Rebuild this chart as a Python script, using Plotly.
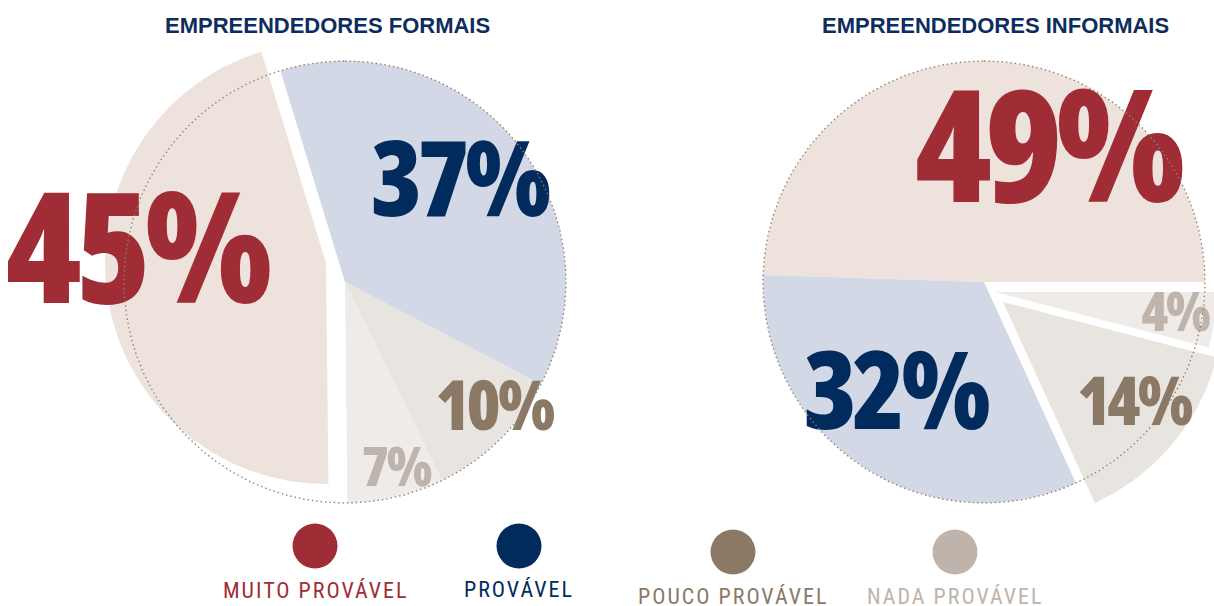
import numpy as np
import plotly.graph_objects as go

# ---- data -------------------------------------------------------------
categories = ["MUITO PROVÁVEL", "PROVÁVEL", "POUCO PROVÁVEL", "NADA PROVÁVEL"]
formais = [45, 37, 10, 7]
informais = [49, 32, 14, 4]
titles = ["EMPREENDEDORES FORMAIS", "EMPREENDEDORES INFORMAIS"]

# ---- styles -----------------------------------------------------------
dark = ["#A02C35", "#002B5C", "#8B7965", "#BEB4AB"]
light = ["#EEE2DD", "#D3D8E6", "#E8E4E0", "#EEEBE8"]
title_color = "#0C2D5E"
ring_color = "#8F8172"
big_font = "Open Sans"
big_style = "font-stretch:75%;letter-spacing:-0.045em"
cap_ratio = 0.714          # digit height / font size for the label face
legend_font = "Roboto Condensed"
title_font = "Liberation Sans, Arial, sans-serif"

W, H = 1214, 606

# Pie layout (pixel space): centre, radius, first edge angle (deg clockwise
# from 12 o'clock), sweep direction, slice draw order, exploded offsets,
# label anchors (centre x, centre y, font size)
pies = [
    dict(values=formais, title=titles[0], title_x=327,
         cx=345, cy=282, r=221, start=-17, direction=-1, order=[0, 3, 2, 1],
         offsets={0: (-19, -19)},
         labels={0: (136, 248, 154), 1: (459, 179, 104),
                 2: (494, 405, 69), 3: (396, 466, 55)}),
    dict(values=informais, title=titles[1], title_x=995,
         cx=984, cy=282, r=221, start=-88.2, direction=1, order=[0, 3, 2, 1],
         offsets={2: (19, 20), 3: (11, 10)},
         labels={0: (1047, 146, 156), 1: (895, 390, 108),
                 2: (1134, 401, 67), 3: (1175, 312, 54)}),
]

legend_pos = [(315, 546, 590), (519, 546, 589), (733, 552, 596), (955, 552, 596)]


def sector(cx, cy, r, a0, a1, n=240):
    th = np.radians(np.linspace(a0, a1, n))
    xs = np.concatenate([[cx], cx + r * np.sin(th), [cx]])
    ys = np.concatenate([[cy], cy - r * np.cos(th), [cy]])
    return xs, ys


fig = go.Figure()

# slices
for p in pies:
    total = sum(p["values"])
    angle = p["start"]
    for i in p["order"]:
        sweep = p["values"][i] / total * 360 * p["direction"]
        dx, dy = p["offsets"].get(i, (0, 0))
        xs, ys = sector(p["cx"] + dx, p["cy"] + dy, p["r"], angle, angle + sweep)
        angle += sweep
        fig.add_trace(go.Scatter(
            x=xs, y=ys, mode="lines", fill="toself", fillcolor=light[i],
            line=dict(width=0, color=light[i]), hoverinfo="skip",
        ))

# percentage labels (plotly puts the baseline 0.25em below a middle-anchored
# point, so shift each anchor to centre the digits on the target)
for p in pies:
    idx = list(p["labels"].keys())
    sizes = [p["labels"][i][2] for i in idx]
    fig.add_trace(go.Scatter(
        x=[p["labels"][i][0] for i in idx],
        y=[p["labels"][i][1] + (cap_ratio / 2 - 0.25) * s for i, s in zip(idx, sizes)],
        text=[f'<span style="{big_style}">{p["values"][i]}%</span>' for i in idx],
        mode="text", textposition="middle center",
        textfont=dict(family=big_font, weight=800, size=sizes,
                      color=[dark[i] for i in idx]),
        hoverinfo="skip",
    ))

# dotted outline circles
for p in pies:
    th = np.radians(np.linspace(0, 360, 721))
    fig.add_trace(go.Scatter(
        x=p["cx"] + p["r"] * np.sin(th), y=p["cy"] - p["r"] * np.cos(th),
        mode="lines", line=dict(color=ring_color, width=1.4, dash="1.4px,3px"),
        hoverinfo="skip",
    ))

# legend
fig.add_trace(go.Scatter(
    x=[q[0] for q in legend_pos], y=[q[1] for q in legend_pos],
    mode="markers", marker=dict(size=45, color=dark, line=dict(width=0)),
    hoverinfo="skip",
))
for k, name in enumerate(categories):
    fig.add_annotation(
        x=legend_pos[k][0], y=legend_pos[k][2], xref="x", yref="y",
        text=f'<span style="letter-spacing:2px">{name}</span>',
        showarrow=False, xanchor="center", yanchor="middle",
        font=dict(family=legend_font, size=22, color=dark[k]),
    )

# titles
for p in pies:
    fig.add_annotation(
        x=p["title_x"], y=25, xref="x", yref="y", text=p["title"],
        showarrow=False, xanchor="center", yanchor="middle",
        font=dict(family=title_font, size=22, weight="bold", color=title_color),
    )

fig.update_layout(
    width=W, height=H, margin=dict(l=0, r=0, t=0, b=0),
    paper_bgcolor="white", plot_bgcolor="white", showlegend=False,
    hovermode=False,
    xaxis=dict(range=[0, W], visible=False, fixedrange=True),
    yaxis=dict(range=[H, 0], visible=False, fixedrange=True),
)

fig.write_html("out.html")
